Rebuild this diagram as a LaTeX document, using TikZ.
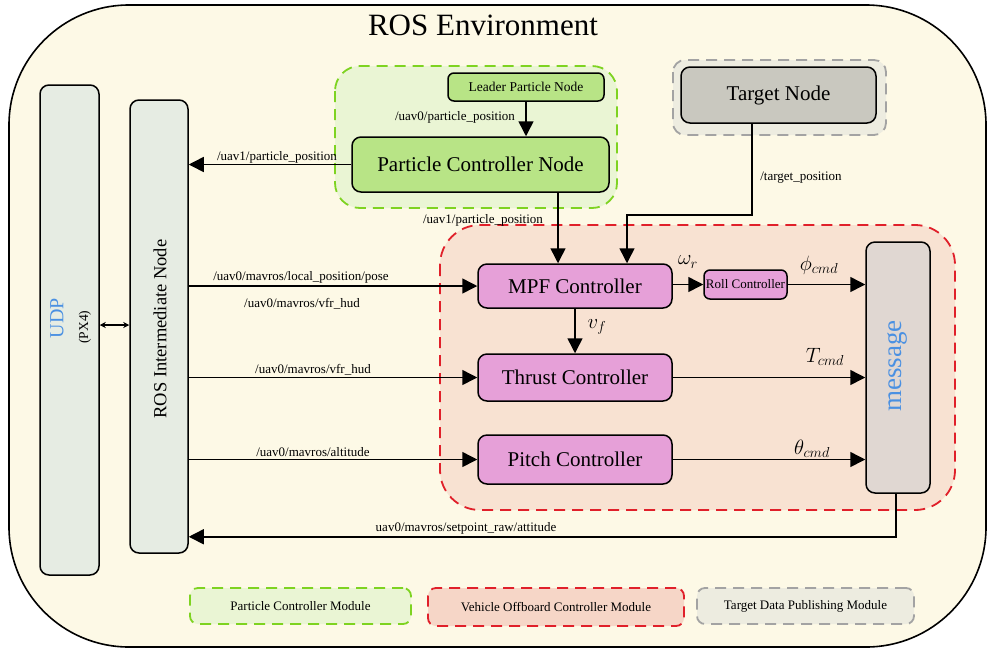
\documentclass[tikz,border=0pt]{standalone}
\usepackage[no-math]{fontspec}
\setmainfont{Liberation Serif}
\usetikzlibrary{arrows.meta,calc}

\definecolor{envfill}{HTML}{FDF9E6}
\definecolor{pcgrp}{HTML}{EAF5D4}
\definecolor{pcline}{HTML}{7ED321}
\definecolor{pcnode}{HTML}{B8E486}
\definecolor{tggrp}{HTML}{EDECE0}
\definecolor{tgline}{HTML}{A3A3A3}
\definecolor{tgnode}{HTML}{C9C8BF}
\definecolor{vogrp}{HTML}{F8E2D2}
\definecolor{voline}{HTML}{E0202A}
\definecolor{volegend}{HTML}{F6D6C7}
\definecolor{ctrlpink}{HTML}{E6A0D8}
\definecolor{msgfill}{HTML}{E0D7D2}
\definecolor{barfill}{HTML}{E6ECE3}
\definecolor{txtblue}{HTML}{4A90E2}

\begin{document}
\begin{tikzpicture}[x=1pt,y=-1pt,
  box/.style={draw, line width=1.5pt, rounded corners=9pt, inner sep=0pt, anchor=center},
  pinkbox/.style={box, fill=ctrlpink, minimum width=194pt, font=\fontsize{21}{24}\selectfont},
  grp/.style={line width=1.8pt, dash pattern=on 11pt off 7pt},
  legend/.style={grp, inner sep=0pt, font=\fontsize{13}{15}\selectfont},
  lbl/.style={font=\fontsize{13}{15}\selectfont, inner sep=1pt},
  mlbl/.style={font=\fontsize{22}{26}\selectfont, inner sep=0pt},
  arr/.style={line width=1.5pt, -{Triangle[length=15pt,width=15pt]}},
  vtext/.style={rotate=90, inner sep=0pt}
]
\useasboundingbox (0,0) rectangle (987,649);

% environment frame and title
\draw[line width=1.6pt, fill=envfill, rounded corners=120pt] (9,5) rectangle (986,647);
\node[font=\fontsize{31}{36}\selectfont] (title) at (483,25) {ROS Environment};

% module regions
\draw[grp, draw=pcline, fill=pcgrp, rounded corners=25pt] (335,66) rectangle (617,208);
\draw[grp, draw=tgline, fill=tggrp, rounded corners=12pt] (673,60) rectangle (886,135);
\draw[grp, draw=voline, fill=vogrp, rounded corners=40pt] (440,225) rectangle (955,510);

% side bars
\node[box, fill=barfill, minimum width=59pt, minimum height=490pt] (udp) at (69.5,330) {};
\node[vtext, font=\fontsize{20}{24}\selectfont, text=txtblue] (udptxt) at (57,318) {UDP};
\node[vtext, font=\fontsize{13.5}{16}\selectfont] (px4) at (85,327) {(PX4)};
\node[box, fill=barfill, minimum width=58pt, minimum height=453pt] (ros) at (159,326.5) {};
\node[vtext, font=\fontsize{18.5}{22}\selectfont] (rostxt) at (160,329) {ROS Intermediate Node};

% particle controller module
\node[box, fill=pcnode, minimum width=156pt, minimum height=28pt, rounded corners=6pt,
      font=\fontsize{13.5}{16}\selectfont] (leader) at (526,87) {Leader Particle Node};
\node[box, fill=pcnode, minimum width=257pt, minimum height=55pt,
      font=\fontsize{21}{24}\selectfont] (pc) at (480.5,164.5) {Particle Controller Node};

% target module
\node[box, fill=tgnode, minimum width=195pt, minimum height=56pt,
      font=\fontsize{21}{24}\selectfont] (tgt) at (778.5,95) {Target Node};

% vehicle offboard controller module
\node[pinkbox, minimum height=44pt] (mpf) at (575,286) {MPF Controller};
\node[pinkbox, minimum height=47pt] (thrust) at (575,377.5) {Thrust Controller};
\node[pinkbox, minimum height=49pt] (pitch) at (575,459.5) {Pitch Controller};
\node[box, fill=ctrlpink, minimum width=83pt, minimum height=29pt, rounded corners=6pt,
      font=\fontsize{13}{15}\selectfont] (roll) at (745.5,284.5) {Roll Controller};
\node[box, fill=msgfill, minimum width=64pt, minimum height=251pt] (msg) at (898,367.5) {};
\node[vtext, font=\fontsize{27}{30}\selectfont, text=txtblue] (msgtxt) at (897,366) {message};

% legend
\node[legend, draw=pcline, fill=pcgrp, rounded corners=8pt, minimum width=221pt, minimum height=36pt]
  (legpc) at (300.5,606) {Particle Controller Module};
\node[legend, draw=voline, fill=volegend, rounded corners=8pt, minimum width=256pt, minimum height=38pt]
  (legvo) at (556,607) {Vehicle Offboard Controller Module};
\node[legend, draw=tgline, fill=tggrp, rounded corners=8pt, minimum width=217pt, minimum height=36pt]
  (legtg) at (805.5,606) {Target Data Publishing Module};

% connectors
\draw[line width=1.2pt, {Stealth[length=6pt,width=6pt]}-{Stealth[length=6pt,width=6pt]}]
  (udp.east |- 0,325) -- (ros.west |- 0,325);

\draw[arr] (leader.south) -- (leader.south |- pc.north);
\node[lbl] (l1) at (455,117) {/uav0/particle\_position};

\draw[arr] (pc.west) -- (ros.east |- pc.west);
\node[lbl] (l2) at (277,157) {/uav1/particle\_position};

\draw[arr] ([xshift=-17pt]mpf.north |- pc.south) -- ([xshift=-17pt]mpf.north);
\node[lbl] (l3) at (483,220) {/uav1/particle\_position};

\draw[arr] ([xshift=-26.5pt]tgt.south) -- ++(0,91) -| ([xshift=52pt]mpf.north);
\node[lbl] (l4) at (801,178) {/target\_position};

\draw[arr] (ros.east |- mpf.west) -- (mpf.west);
\node[lbl] (l5) at (301,277) {/uav0/mavros/local\_position/pose};
\node[lbl] (l6) at (302,304) {/uav0/mavros/vfr\_hud};

\draw[arr] (ros.east |- thrust.west) -- (thrust.west);
\node[lbl] (l7) at (313,370) {/uav0/mavros/vfr\_hud};

\draw[arr] (ros.east |- pitch.west) -- (pitch.west);
\node[lbl] (l8) at (313,452) {/uav0/mavros/altitude};

\draw[arr] (mpf.east |- roll.west) -- (roll.west);
\node[mlbl] (wr) at (688,262) {$\omega_r$};

\draw[arr] (roll.east) -- (msg.west |- roll.east);
\node[mlbl] (phi) at (819,265) {$\phi_{cmd}$};

\draw[arr] (mpf.south) -- (thrust.north);
\node[mlbl] (vf) at (597,327) {$v_f$};

\draw[arr] (thrust.east) -- (msg.west |- thrust.east);
\node[mlbl] (tc) at (825,357) {$T_{cmd}$};

\draw[arr] (pitch.east) -- (msg.west |- pitch.east);
\node[mlbl] (thc) at (812,449) {$\theta_{cmd}$};

\draw[arr] ([xshift=-2pt]msg.south) -- ++(0,43) coordinate (fbk) -- (ros.east |- fbk);
\node[lbl] (l9) at (466,528) {uav0/mavros/setpoint\_raw/attitude};
\end{tikzpicture}
\end{document}
